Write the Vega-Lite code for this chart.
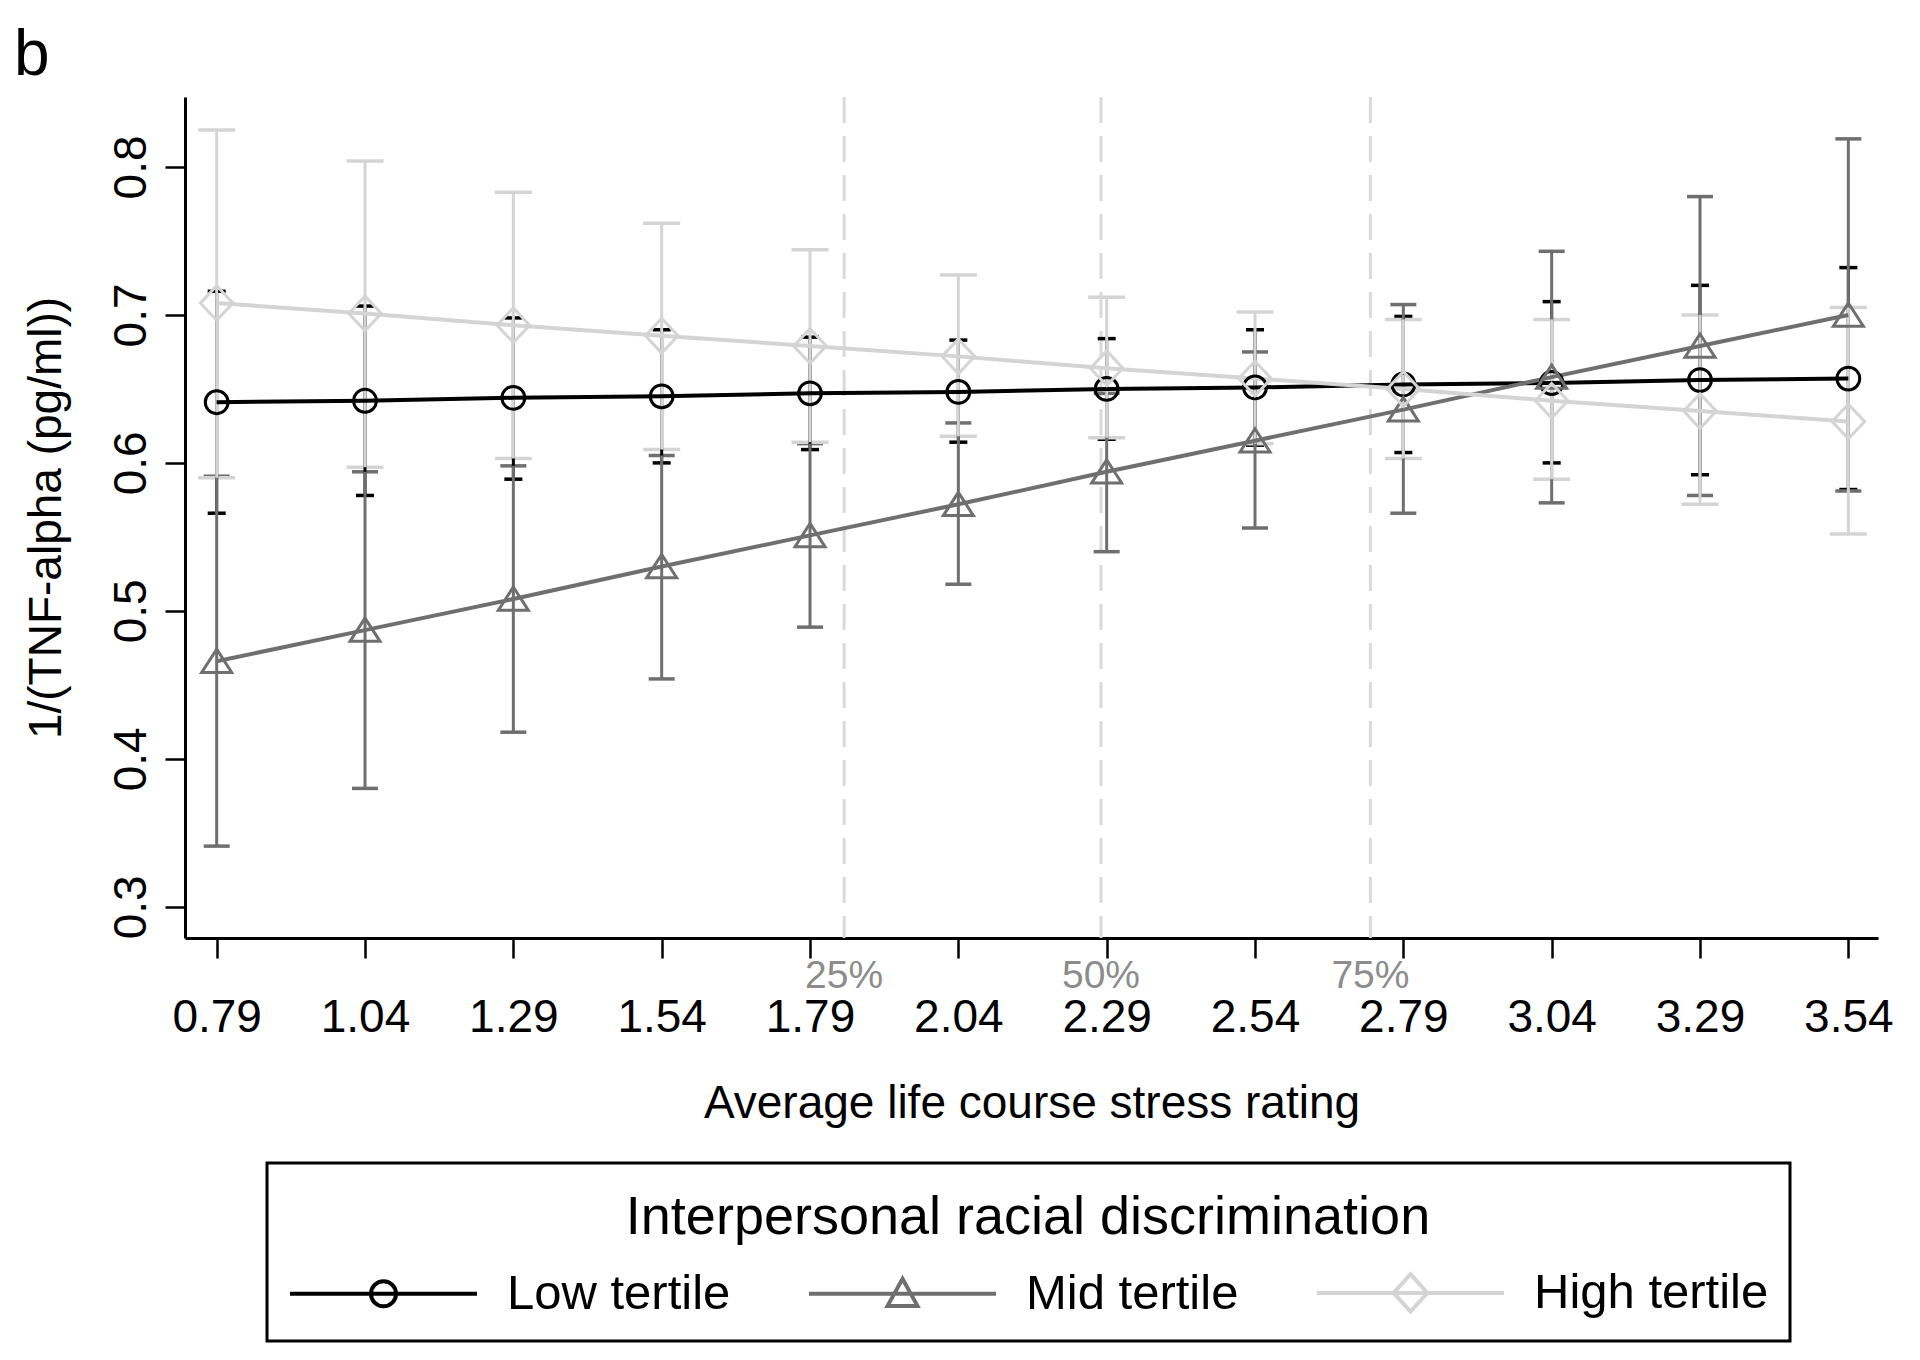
{
  "$schema": "https://vega.github.io/schema/vega-lite/v6.json",
  "width": 1693,
  "height": 841,
  "autosize": {"type": "none"},
  "padding": {"left": 185, "top": 97, "right": 42, "bottom": 422},
  "background": "white",
  "title": {"text": "b", "anchor": "start", "frame": "group", "fontSize": 64, "fontWeight": "normal", "color": "black", "dx": -171, "dy": 62, "offset": 19, "baseline": "alphabetic"},
  "config": {
    "font": "Liberation Sans",
    "view": {"stroke": null},
    "axis": {"grid": false, "domainColor": "black", "domainWidth": 3, "tickColor": "black", "tickWidth": 2.5, "tickSize": 20, "labelColor": "black", "titleColor": "black", "labelFontSize": 46, "titleFontSize": 46, "titleFontWeight": "normal"}
  },
  "datasets": {
    "est": [
      {"x": 0.79, "series": "Low tertile", "mean": 0.641, "lo": 0.566, "hi": 0.716},
      {"x": 1.04, "series": "Low tertile", "mean": 0.642, "lo": 0.578, "hi": 0.706},
      {"x": 1.29, "series": "Low tertile", "mean": 0.644, "lo": 0.589, "hi": 0.698},
      {"x": 1.54, "series": "Low tertile", "mean": 0.645, "lo": 0.600, "hi": 0.690},
      {"x": 1.79, "series": "Low tertile", "mean": 0.647, "lo": 0.609, "hi": 0.685},
      {"x": 2.04, "series": "Low tertile", "mean": 0.648, "lo": 0.614, "hi": 0.683},
      {"x": 2.29, "series": "Low tertile", "mean": 0.650, "lo": 0.616, "hi": 0.684},
      {"x": 2.54, "series": "Low tertile", "mean": 0.651, "lo": 0.612, "hi": 0.690},
      {"x": 2.79, "series": "Low tertile", "mean": 0.653, "lo": 0.607, "hi": 0.699},
      {"x": 3.04, "series": "Low tertile", "mean": 0.654, "lo": 0.600, "hi": 0.709},
      {"x": 3.29, "series": "Low tertile", "mean": 0.656, "lo": 0.592, "hi": 0.720},
      {"x": 3.54, "series": "Low tertile", "mean": 0.657, "lo": 0.582, "hi": 0.732},
      {"x": 0.79, "series": "Mid tertile", "mean": 0.466, "lo": 0.341, "hi": 0.591},
      {"x": 1.04, "series": "Mid tertile", "mean": 0.487, "lo": 0.380, "hi": 0.594},
      {"x": 1.29, "series": "Mid tertile", "mean": 0.508, "lo": 0.418, "hi": 0.598},
      {"x": 1.54, "series": "Mid tertile", "mean": 0.530, "lo": 0.454, "hi": 0.605},
      {"x": 1.79, "series": "Mid tertile", "mean": 0.551, "lo": 0.489, "hi": 0.613},
      {"x": 2.04, "series": "Mid tertile", "mean": 0.572, "lo": 0.518, "hi": 0.627},
      {"x": 2.29, "series": "Mid tertile", "mean": 0.594, "lo": 0.540, "hi": 0.647},
      {"x": 2.54, "series": "Mid tertile", "mean": 0.615, "lo": 0.556, "hi": 0.675},
      {"x": 2.79, "series": "Mid tertile", "mean": 0.636, "lo": 0.566, "hi": 0.707},
      {"x": 3.04, "series": "Mid tertile", "mean": 0.658, "lo": 0.573, "hi": 0.743},
      {"x": 3.29, "series": "Mid tertile", "mean": 0.679, "lo": 0.578, "hi": 0.780},
      {"x": 3.54, "series": "Mid tertile", "mean": 0.700, "lo": 0.581, "hi": 0.819},
      {"x": 0.79, "series": "High tertile", "mean": 0.708, "lo": 0.590, "hi": 0.825},
      {"x": 1.04, "series": "High tertile", "mean": 0.701, "lo": 0.597, "hi": 0.804},
      {"x": 1.29, "series": "High tertile", "mean": 0.693, "lo": 0.603, "hi": 0.783},
      {"x": 1.54, "series": "High tertile", "mean": 0.686, "lo": 0.609, "hi": 0.762},
      {"x": 1.79, "series": "High tertile", "mean": 0.679, "lo": 0.614, "hi": 0.744},
      {"x": 2.04, "series": "High tertile", "mean": 0.672, "lo": 0.618, "hi": 0.727},
      {"x": 2.29, "series": "High tertile", "mean": 0.664, "lo": 0.617, "hi": 0.712},
      {"x": 2.54, "series": "High tertile", "mean": 0.657, "lo": 0.613, "hi": 0.702},
      {"x": 2.79, "series": "High tertile", "mean": 0.650, "lo": 0.603, "hi": 0.697},
      {"x": 3.04, "series": "High tertile", "mean": 0.642, "lo": 0.589, "hi": 0.697},
      {"x": 3.29, "series": "High tertile", "mean": 0.635, "lo": 0.572, "hi": 0.700},
      {"x": 3.54, "series": "High tertile", "mean": 0.628, "lo": 0.552, "hi": 0.705}
    ],
    "quart": [
      {"q": 1.8475, "label": "25%"},
      {"q": 2.2804, "label": "50%"},
      {"q": 2.7345, "label": "75%"}
    ]
  },
  "layer": [
    {
      "data": {"name": "quart"},
      "mark": {"type": "rule", "color": "#d9d9d9", "strokeWidth": 3, "strokeDash": [26, 13]},
      "encoding": {
        "x": {"field": "q", "type": "quantitative", "scale": {"domain": [0.7366, 3.59], "nice": false, "zero": false},
          "axis": {"values": [0.79, 1.04, 1.29, 1.54, 1.79, 2.04, 2.29, 2.54, 2.79, 3.04, 3.29, 3.54], "format": ".2f", "labelPadding": 37, "title": "Average life course stress rating", "titlePadding": 41, "labelFlush": false, "labelOverlap": false}}
      }
    },
    {
      "data": {"name": "quart"},
      "mark": {"type": "text", "baseline": "alphabetic", "align": "center", "dy": 50, "fontSize": 39, "color": "#8c8c8c"},
      "encoding": {
        "x": {"field": "q", "type": "quantitative"},
        "y": {"value": "height"},
        "text": {"field": "label"}
      }
    },
    {
      "data": {"name": "est"},
      "transform": [{"filter": "datum.series === 'Low tertile'"}, {"fold": ["lo", "hi"], "as": ["end", "val"]}],
      "mark": {"type": "point", "shape": "M-1,0L1,0", "size": 324, "filled": false, "strokeWidth": 3.5, "opacity": 1, "color": "#000000"},
      "encoding": {
        "x": {"field": "x", "type": "quantitative"},
        "y": {"field": "val", "type": "quantitative"}
      }
    },
    {
      "data": {"name": "est"},
      "transform": [{"filter": "datum.series === 'Mid tertile'"}, {"fold": ["lo", "hi"], "as": ["end", "val"]}],
      "mark": {"type": "point", "shape": "M-1,0L1,0", "size": 676, "filled": false, "strokeWidth": 3.5, "opacity": 1, "color": "#6f6f6f"},
      "encoding": {
        "x": {"field": "x", "type": "quantitative"},
        "y": {"field": "val", "type": "quantitative"}
      }
    },
    {
      "data": {"name": "est"},
      "transform": [{"filter": "datum.series === 'High tertile'"}, {"fold": ["lo", "hi"], "as": ["end", "val"]}],
      "mark": {"type": "point", "shape": "M-1,0L1,0", "size": 1369, "filled": false, "strokeWidth": 3.5, "opacity": 1, "color": "#d4d4d4"},
      "encoding": {
        "x": {"field": "x", "type": "quantitative"},
        "y": {"field": "val", "type": "quantitative"}
      }
    },
    {
      "data": {"name": "est"},
      "mark": {"type": "rule", "strokeWidth": 3},
      "encoding": {
        "x": {"field": "x", "type": "quantitative"},
        "y": {"field": "lo", "type": "quantitative"},
        "y2": {"field": "hi"},
        "color": {"field": "series", "type": "nominal", "scale": {"domain": ["Low tertile", "Mid tertile", "High tertile"], "range": ["#000000", "#6f6f6f", "#d4d4d4"]}}
      }
    },
    {
      "data": {"name": "est"},
      "mark": {"type": "line", "strokeWidth": 4},
      "encoding": {
        "x": {"field": "x", "type": "quantitative"},
        "y": {"field": "mean", "type": "quantitative", "scale": {"domain": [0.2789, 0.8473], "nice": false, "zero": false},
          "axis": {"values": [0.3, 0.4, 0.5, 0.6, 0.7, 0.8], "format": ".1f", "labelAngle": 270, "labelAlign": "center", "labelBaseline": "alphabetic", "labelPadding": 20, "title": "1/(TNF-alpha (pg/ml))", "titlePadding": 38}},
        "color": {"field": "series", "type": "nominal", "sort": ["Low tertile", "Mid tertile", "High tertile"],
          "legend": {
            "title": "Interpersonal racial discrimination",
            "orient": "none", "legendX": 82, "legendY": 1066,
            "direction": "horizontal", "columns": 3, "columnPadding": 70,
            "padding": 21, "strokeColor": "black", "fillColor": "white",
            "titleFontSize": 54, "titleFontWeight": "normal", "titleColor": "black", "titleAnchor": "middle",
            "titleBaseline": "line-top", "titleLineHeight": 69, "titlePadding": -41, "titleLimit": 2000,
            "labelFontSize": 49, "labelColor": "black", "labelLimit": 600,
            "symbolSize": 100, "symbolOffset": 0, "labelOffset": 28,
            "encode": {
              "legend": {"update": {"strokeWidth": {"value": 3}}},
              "symbols": {"update": {
                "shape": {"signal": "datum.value === 'Low tertile' ? 'M-1,0L1,0M0.134,0A0.134,0.134,0,1,1,-0.134,0A0.134,0.134,0,1,1,0.134,0Z' : datum.value === 'Mid tertile' ? 'M-1,0L1,0M0,-0.16L0.16,0.13L-0.16,0.13Z' : 'M-1,0L1,0M0,-0.2L0.18,0L0,0.2L-0.18,0Z'"},
                "size": {"value": 34969},
                "strokeWidth": {"value": 4},
                "fill": {"value": "transparent"},
                "opacity": {"value": 1}
              }}
            }
          }}
      }
    },
    {
      "data": {"name": "est"},
      "transform": [{"filter": "datum.series === 'Low tertile'"}],
      "mark": {"type": "point", "shape": "circle", "size": 520, "filled": false, "strokeWidth": 3, "opacity": 1, "color": "#000000"},
      "encoding": {
        "x": {"field": "x", "type": "quantitative"},
        "y": {"field": "mean", "type": "quantitative"}
      }
    },
    {
      "data": {"name": "est"},
      "transform": [{"filter": "datum.series === 'Mid tertile'"}],
      "mark": {"type": "point", "shape": "M0,-0.8L1,0.75L-1,0.75Z", "size": 900, "filled": false, "strokeWidth": 3, "opacity": 1, "color": "#6f6f6f"},
      "encoding": {
        "x": {"field": "x", "type": "quantitative"},
        "y": {"field": "mean", "type": "quantitative"}
      }
    },
    {
      "data": {"name": "est"},
      "transform": [{"filter": "datum.series === 'High tertile'"}],
      "mark": {"type": "point", "shape": "M0,-1L0.94,0L0,1L-0.94,0Z", "size": 1200, "filled": false, "strokeWidth": 3, "opacity": 1, "color": "#d4d4d4"},
      "encoding": {
        "x": {"field": "x", "type": "quantitative"},
        "y": {"field": "mean", "type": "quantitative"}
      }
    }
  ]
}
